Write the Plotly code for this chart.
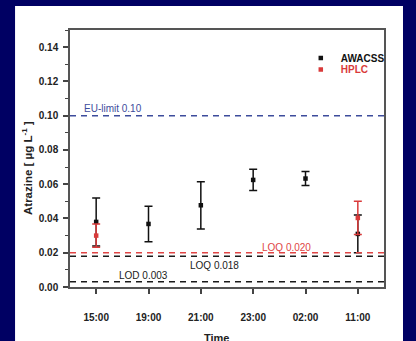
import plotly.graph_objects as go

times = ["15:00", "19:00", "21:00", "23:00", "02:00", "11:00"]
awacss = [0.038, 0.0368, 0.0477, 0.0625, 0.0633, 0.031]
awacss_err = [0.014, 0.0104, 0.0138, 0.0062, 0.0041, 0.011]
hplc_times = ["15:00", "11:00"]
hplc = [0.030, 0.0403]
hplc_err = [0.0068, 0.0097]

limit_values = [0.10, 0.020, 0.018, 0.003]
limit_labels = ["EU-limit 0.10", "LOQ 0.020", "LOQ 0.018", "LOD 0.003"]
limit_colors = ["#3d4c9c", "#e04545", "#1a1a1a", "#1a1a1a"]
label_x = [0.32, 3.63, 2.27, 0.9]
label_shift = [7, 5, -9, 6]

BLACK = "#111111"
RED = "#d93a3a"
FONT = "Liberation Sans"

fig = go.Figure()

fig.add_trace(go.Scatter(
    x=times, y=awacss, mode="markers", name="<b>AWACSS</b>", legend="legend",
    marker=dict(symbol="square", size=4.5, color=BLACK),
    error_y=dict(type="data", array=awacss_err, color=BLACK, thickness=1.5, width=4),
))
fig.add_trace(go.Scatter(
    x=hplc_times, y=hplc, mode="markers", legend="legend2",
    name="<span style='color:#d93a3a'><b>HPLC</b></span>",
    marker=dict(symbol="square", size=4.5, color=RED),
    error_y=dict(type="data", array=hplc_err, color=RED, thickness=1.5, width=4),
))

for v, lab, col, lx, sh in zip(limit_values, limit_labels, limit_colors, label_x, label_shift):
    fig.add_shape(type="line", xref="paper", yref="y", x0=0, x1=1, y0=v, y1=v,
                  line=dict(color=col, width=1.5, dash="6px,5px"), layer="above")
    fig.add_annotation(x=lx, y=v, xref="x", yref="y", text=lab, showarrow=False,
                       yshift=sh, font=dict(family=FONT, size=10, color=col))

# white page area
fig.add_shape(type="rect", xref="paper", yref="paper", x0=-0.175, x1=1.0605,
              y0=-0.3, y1=1.093, fillcolor="white", line=dict(width=0), layer="below")

fig.add_annotation(xref="paper", yref="paper", x=-0.137, y=0.463, xanchor="center",
                   yanchor="middle",
                   text="<b>Atrazine [ µg L<sup>-1</sup> ]</b>", textangle=-90,
                   showarrow=False, font=dict(family=FONT, size=11.5, color="#222"))
fig.add_annotation(xref="paper", yref="paper", x=0.467, y=-0.2, xanchor="center",
                   yanchor="middle", text="<b>Time</b>", showarrow=False,
                   font=dict(family=FONT, size=11, color="#222"))

leg_common = dict(xanchor="left", yanchor="top", bgcolor="rgba(0,0,0,0)",
                  font=dict(family=FONT, size=10, color="#111"), itemwidth=30)
fig.update_layout(
    width=416, height=341,
    margin=dict(l=70, r=32, t=30, b=54),
    paper_bgcolor="#000063",
    plot_bgcolor="white",
    font=dict(family=FONT, size=9, color="#222"),
    showlegend=True,
    legend=dict(x=0.735, y=0.947, **leg_common),
    legend2=dict(x=0.735, y=0.903, **leg_common),
)
fig.update_xaxes(
    type="category", categoryorder="array", categoryarray=times, range=[-0.5, 5.5],
    showgrid=False, zeroline=False, showline=True, mirror=True, linecolor="#555", linewidth=1.5,
    ticks="outside", ticklen=5, tickwidth=1.5, tickcolor="#444",
    tickfont=dict(family=FONT, size=10, color="#222", weight="bold"),
    ticklabelstandoff=15,
)
fig.update_yaxes(
    range=[0, 0.15], tickvals=[0, 0.02, 0.04, 0.06, 0.08, 0.10, 0.12, 0.14], tickformat=".2f",
    showgrid=False, zeroline=False, showline=True, mirror=True, linecolor="#555", linewidth=1.5,
    ticks="outside", ticklen=5, tickwidth=1.5, tickcolor="#444",
    minor=dict(dtick=0.01, ticks="outside", ticklen=3, tickwidth=1, tickcolor="#444"),
    tickfont=dict(family=FONT, size=10, color="#222", weight="bold"),
    ticklabelstandoff=3,
)

fig.write_html("out.html", config={"displayModeBar": False},
               post_script="document.body.style.margin='0';document.body.style.padding='0';")
